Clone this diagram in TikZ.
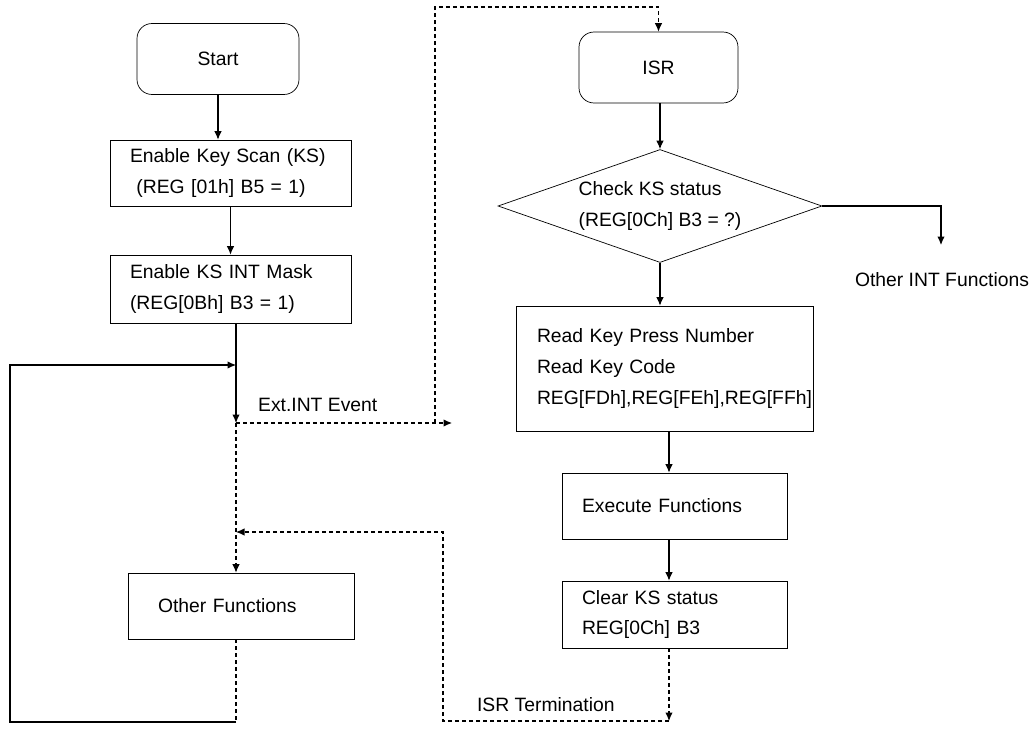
\documentclass[tikz,border=0pt]{standalone}
\usepackage{fontspec}
\setmainfont{Liberation Sans}
\usetikzlibrary{arrows.meta, positioning, shapes.geometric}

\begin{document}
\begin{tikzpicture}[
      x=0.02cm, y=-0.02cm,
      font=\fontsize{11}{17.5}\selectfont,
      term/.style={draw, rounded corners=3mm, minimum width=3.24cm, minimum height=1.42cm, align=center},
      box/.style={draw, minimum width=4.82cm, minimum height=1.32cm, inner xsep=0.4cm, align=left},
      decision/.style={draw, diamond, aspect=2.87, inner sep=0pt, minimum width=6.48cm, minimum height=2.26cm, align=left},
      arr/.style={-{Latex[length=1.7mm, width=1.5mm]}, line width=0.6pt},
      darr/.style={arr, dash pattern=on 0.8mm off 0.6mm},
      dline/.style={line width=0.6pt, dash pattern=on 0.8mm off 0.6mm},
      lbl/.style={inner sep=1pt}
    ]
    \useasboundingbox (0,0) rectangle (1035,730);

    % main program
    \node[term] (start) at (218,59) {Start};
    \node[box, text width=4.02cm] (ekey) at (230.5,173) {Enable Key Scan (KS)\\\ (REG [01h] B5 = 1)};
    \node[box, text width=4.02cm, minimum height=1.36cm] (mask) at (230.5,289) {Enable KS INT Mask\\(REG[0Bh] B3 = 1)};
    \node[box, text width=3.32cm, minimum width=4.52cm, inner xsep=0.6cm] (oth) at (241,606) {Other Functions};

    % interrupt service routine
    \node[term, minimum width=3.18cm] (isr) at (658.5,67.5) {ISR};
    \node[decision] (chk) at (660,206) {Check KS status\\(REG[0Ch] B3 = ?)};
    \node[box, text width=5.1cm, minimum width=5.94cm, minimum height=2.5cm, inner xsep=0.42cm] (read) at (664.5,368.5) {Read Key Press Number\\Read Key Code\\REG[FDh],REG[FEh],REG[FFh]\\[4pt]};
    \node[box, text width=3.7cm, minimum width=4.5cm] (exec) at (674.5,506) {Execute Functions};
    \node[box, text width=3.7cm, minimum width=4.5cm, minimum height=1.34cm] (clr) at (674.5,614.5) {Clear KS status\\REG[0Ch] B3};

    \node[lbl] (oint) at (942,280) {Other INT Functions};
    \node[lbl, anchor=west] (evtlbl) at (256,405) {Ext.INT Event};
    \node[lbl, anchor=west] (isrend) at (475,705) {ISR Termination};

    \coordinate (evt) at (236,423);
    \coordinate (evtend) at (452,423);
    \coordinate (brk) at (435,423);
    \coordinate (up) at (435,7);
    \coordinate (loopin) at (236,365);
    \coordinate (lp) at (10,722);
    \coordinate (rx) at (669,0);
    \coordinate (ret) at (443,721);
    \coordinate (retup) at (443,532);
    \coordinate (oarr) at (941,245);

    \draw[arr] (start.south) -- (start.south |- ekey.north);
    \draw[arr] (ekey) -- (mask);
    \draw[arr] (mask.south -| evt) -- (evt);
    \draw[darr] (evt) -- (evtend);
    \draw[darr] (brk) -- (up) -| (isr.north);
    \draw[darr] (evt) -- (oth.north -| evt);
    \draw[dline] (oth.south -| evt) -- (evt |- lp);
    \draw[arr] (evt |- lp) -- (lp) -- (lp |- loopin) -- (loopin);

    \draw[arr] (isr.south -| chk.north) -- (chk.north);
    \draw[arr] (chk.east) -| (oarr);
    \draw[arr] (chk.south) -- (chk.south |- read.north);
    \draw[arr] (read.south -| rx) -- (exec.north -| rx);
    \draw[arr] (exec.south -| rx) -- (clr.north -| rx);
    \draw[darr] (clr.south -| rx) -- (rx |- ret);
    \draw[darr] (rx |- ret) -- (ret) -- (retup) -- (retup -| evt);
  \end{tikzpicture}
\end{document}
